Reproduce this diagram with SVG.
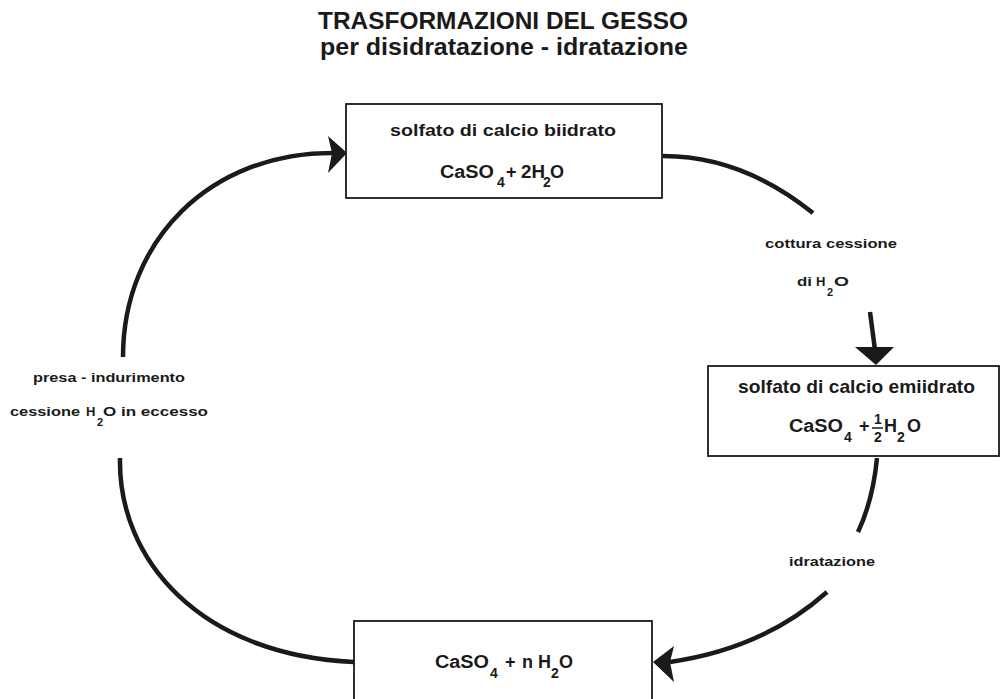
<svg xmlns="http://www.w3.org/2000/svg" width="1001" height="699" viewBox="0 0 1001 699">
<style>
text{font-family:"Liberation Sans",Arial,sans-serif;font-weight:bold;fill:#1a1a1a}
.box{fill:#fff;stroke:#1a1a1a;stroke-width:1.8}
.con{fill:none;stroke:#1a1a1a;stroke-width:4.5;stroke-linecap:butt}
.head{fill:#1a1a1a}
.t{font-size:23px}
.n{font-size:17px}
.f{font-size:18px}
.s{font-size:14px}
.l{font-size:13px}
.ls{font-size:11px}
</style>
<rect width="1001" height="699" fill="#fff"/>
<g id="title">
<text class="t" x="318" y="29" textLength="370" lengthAdjust="spacingAndGlyphs">TRASFORMAZIONI DEL GESSO</text>
<text class="t" x="320" y="55" textLength="368" lengthAdjust="spacingAndGlyphs">per disidratazione - idratazione</text>
</g>
<g id="connectors">
<path class="con" d="M663,156 Q742,156 813,213"/>
<path class="con" d="M870,312 L875,350"/>
<polygon class="head" points="855,347 894,347 876,365"/>
<path class="con" d="M877,458 Q873,500 858,532"/>
<path class="con" d="M827,592 C790,625 740,652 670,662"/>
<polygon class="head" points="653,662 674,646 670,662 674,682"/>
<path class="con" d="M120,458 C118,560 200,655 354,662"/>
<path class="con" d="M123,357 C123,240 210,153 332,153"/>
<polygon class="head" points="328,136 347,153 328,173 332,153"/>
</g>
<g id="labels">
<text class="l" x="765" y="248" textLength="132" lengthAdjust="spacingAndGlyphs">cottura cessione</text>
<text class="l" x="797" y="286" textLength="15" lengthAdjust="spacingAndGlyphs">di</text>
<text class="l" x="816" y="286">H</text>
<text class="ls" x="827" y="296">2</text>
<text class="l" x="834" y="286" textLength="15" lengthAdjust="spacingAndGlyphs">O</text>
<text class="l" x="789" y="566" textLength="86" lengthAdjust="spacingAndGlyphs">idratazione</text>
<text class="l" x="33" y="382" textLength="152" lengthAdjust="spacingAndGlyphs">presa - indurimento</text>
<text class="l" x="10" y="416" textLength="70" lengthAdjust="spacingAndGlyphs">cessione</text>
<text class="l" x="86" y="416">H</text>
<text class="ls" x="97" y="426">2</text>
<text class="l" x="103" y="416" textLength="105" lengthAdjust="spacingAndGlyphs">O in eccesso</text>
</g>
<g id="node-biidrato">
<rect class="box" x="346" y="104" width="316" height="94"/>
<text class="n" x="390" y="136" textLength="226" lengthAdjust="spacingAndGlyphs">solfato di calcio biidrato</text>
<text class="f" x="440" y="178" textLength="54" lengthAdjust="spacingAndGlyphs">CaSO</text>
<text class="s" x="497" y="187">4</text>
<text class="f" x="506" y="178">+</text>
<text class="f" x="521" y="178" textLength="24" lengthAdjust="spacingAndGlyphs">2H</text>
<text class="s" x="543" y="187">2</text>
<text class="f" x="550" y="178">O</text>
</g>
<g id="node-emiidrato">
<rect class="box" x="708" y="366" width="291" height="90"/>
<text class="n" x="738" y="393" style="font-size:19px" textLength="237" lengthAdjust="spacingAndGlyphs">solfato di calcio emiidrato</text>
<text class="f" x="789" y="432" textLength="54" lengthAdjust="spacingAndGlyphs">CaSO</text>
<text class="s" x="844" y="442">4</text>
<text class="f" x="859" y="432">+</text>
<text class="s" x="874" y="424">1</text>
<line x1="872" y1="428" x2="883" y2="428" stroke="#1a1a1a" stroke-width="1.5"/>
<text class="s" x="874" y="442">2</text>
<text class="f" x="884" y="432">H</text>
<text class="s" x="897" y="442">2</text>
<text class="f" x="907" y="432">O</text>
</g>
<g id="node-idratato">
<rect class="box" x="354" y="621" width="298" height="100"/>
<text class="f" x="435" y="668" textLength="54" lengthAdjust="spacingAndGlyphs">CaSO</text>
<text class="s" x="490" y="678">4</text>
<text class="f" x="505" y="668">+</text>
<text class="f" x="522" y="668">n</text>
<text class="f" x="538" y="668">H</text>
<text class="s" x="551" y="678">2</text>
<text class="f" x="559" y="668">O</text>
</g>
</svg>
